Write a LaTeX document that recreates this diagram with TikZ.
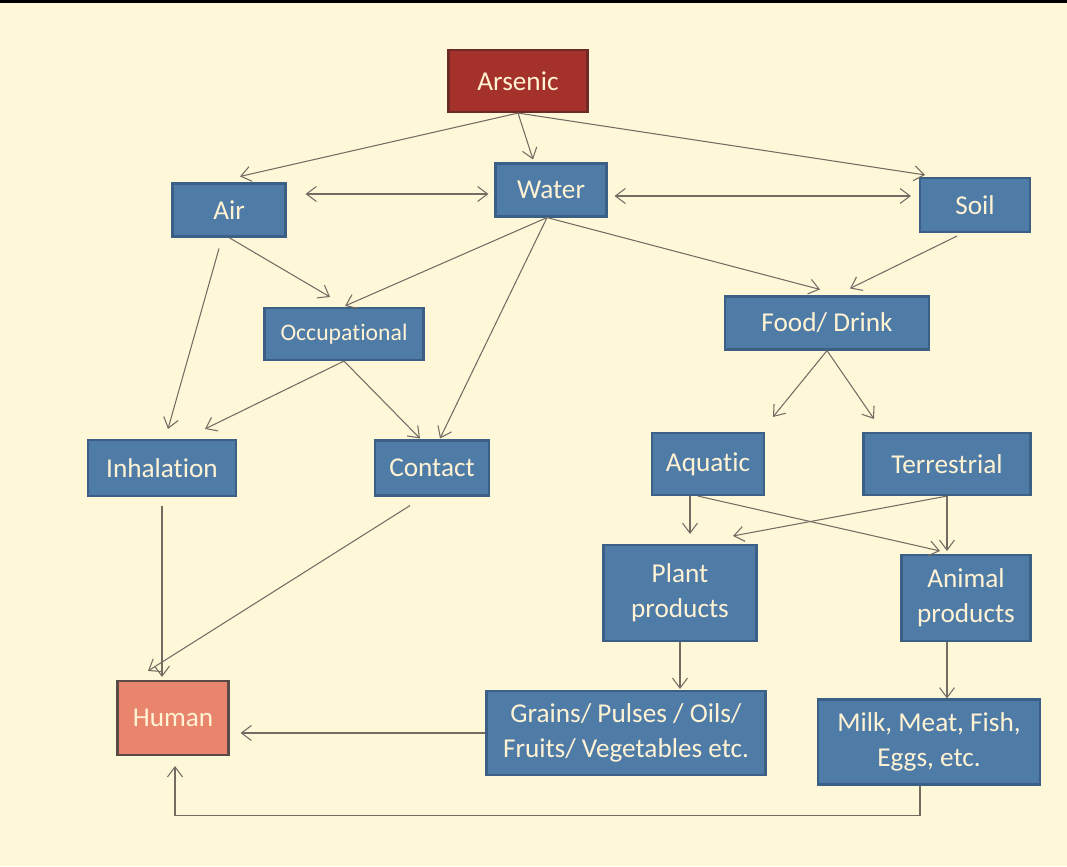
\documentclass[tikz,border=0pt]{standalone}
\usepackage{fontspec}
\setmainfont{Carlito}[Ligatures=CommonOff]
\usepackage{tikz}
\usetikzlibrary{positioning,arrows.meta,calc}
\definecolor{cream}{HTML}{FEF8D9}
\definecolor{boxblue}{HTML}{4F7BA7}
\definecolor{boxedge}{HTML}{3C5F86}
\definecolor{asred}{HTML}{A5322A}
\definecolor{asedge}{HTML}{6E2A27}
\definecolor{humanred}{HTML}{E9856C}
\definecolor{humanedge}{HTML}{5B4B48}
\definecolor{txtcream}{HTML}{FFF3D4}
\definecolor{linkgray}{HTML}{736C62}

\begin{document}
\begin{tikzpicture}[x=0.02cm,y=-0.02cm,>={Straight Barb[length=2mm,width=3mm]},
  box/.style={draw=boxedge,fill=boxblue,line width=1.2pt,text=txtcream,inner sep=0pt,
    align=center,font=\fontsize{15.5}{20}\selectfont},
  wh/.style 2 args={minimum width=#1*0.02cm,minimum height=#2*0.02cm},
  arr/.style={draw=linkgray,line width=0.6pt,->},
  biarr/.style={draw=linkgray,line width=0.6pt,<->}]
  \fill[cream] (0,0) rectangle (1067,866);
  \fill[black] (0,0) rectangle (1067,3);

  \node[box,wh={139}{62},fill=asred,draw=asedge] (arsenic) at (518,81) {Arsenic};
  \node[box,wh={111}{53}] (water) at (551,190) {Water};
  \node[box,wh={113}{53}] (air) at (229,210) {Air};
  \node[box,wh={110}{54}] (soil) at (975,205) {Soil};
  \node[box,wh={159}{52},font=\fontsize{13.5}{16}\selectfont] (occ) at (344,334) {Occupational};
  \node[box,wh={204}{53}] (food) at (827,323) {Food/ Drink};
  \node[box,wh={148}{56}] (inh) at (162,468) {Inhalation};
  \node[box,wh={114}{55}] (contact) at (432,468) {Contact};
  \node[box,wh={112}{62}] (aquatic) at (708,464) {Aquatic};
  \node[box,wh={167}{62}] (terr) at (947,464) {Terrestrial};
  \node[box,wh={153}{96}] (plant) at (680,593) {Plant\\products};
  \node[box,wh={129}{86}] (animal) at (966,598) {Animal\\products};
  \node[box,wh={111}{74},fill=humanred,draw=humanedge] (human) at (173,718) {Human};
  \node[box,wh={279}{84}] (grains) at (626,733) {Grains/ Pulses / Oils/\\Fruits/ Vegetables etc.};
  \node[box,wh={222}{85}] (milk) at (929,742) {Milk, Meat, Fish,\\Eggs, etc.};

  \draw[arr] (arsenic.south) -- ($(air.north)+(11,-6)$);
  \draw[arr] (arsenic.south) -- ($(water.north)+(-18,-3)$);
  \draw[arr] (arsenic.south) -- ($(soil.north)+(-50,-2)$);
  \draw[biarr] ($(air.east)+(19,-16)$) -- ($(water.west)+(-6,4)$);
  \draw[biarr] ($(water.east)+(7,6)$) -- ($(soil.west)+(-8,-9)$);
  \draw[arr] (air.south) -- ($(occ.north)+(-14,-10)$);
  \draw[arr] ($(water.south)+(-4,0)$) -- ($(occ.north)+(1,-1)$);
  \draw[arr] ($(water.south)+(-4,0)$) -- ($(contact.north)+(8,-1)$);
  \draw[arr] ($(water.south)+(-4,0)$) -- ($(food.north)+(-7,-6)$);
  \draw[arr] ($(soil.south)+(-18,3)$) -- ($(food.north)+(23,-7)$);
  \draw[arr] ($(air.south)+(-10,11)$) -- ($(inh.north)+(6,-10)$);
  \draw[arr] (occ.south) -- ($(inh.north)+(43,-10)$);
  \draw[arr] (occ.south) -- ($(contact.north)+(-12,-1)$);
  \draw[arr] (food.south) -- ($(aquatic.north)+(65,-15)$);
  \draw[arr] (food.south) -- ($(terr.north)+(-73,-13)$);
  \draw[arr] ($(inh.south)+(0,9)$) -- ($(human.north)+(-11,-3)$);
  \draw[arr] ($(contact.south)+(-22,9)$) -- ($(human.north)+(-25,-9)$);
  \draw[arr] ($(aquatic.south)+(-18,0)$) -- ($(plant.north)+(10,-10)$);
  \draw[arr] ($(aquatic.south)+(-10,0)$) -- ($(animal.north)+(-26,-3)$);
  \draw[arr] (terr.south) -- ($(plant.north)+(53,-8)$);
  \draw[arr] (terr.south) -- ($(animal.north)+(-19,-3)$);
  \draw[arr] (plant.south) -- ($(grains.north)+(54,-1)$);
  \draw[arr] ($(animal.south)+(-19,0)$) -- ($(milk.north)+(18,0)$);
  \draw[arr] (grains.west) -- ($(human.east)+(11,15)$);
  \draw[arr] ($(milk.south)+(-9,0)$) -- ++(0,30) -| ($(human.south)+(2,10)$);
\end{tikzpicture}
\end{document}
